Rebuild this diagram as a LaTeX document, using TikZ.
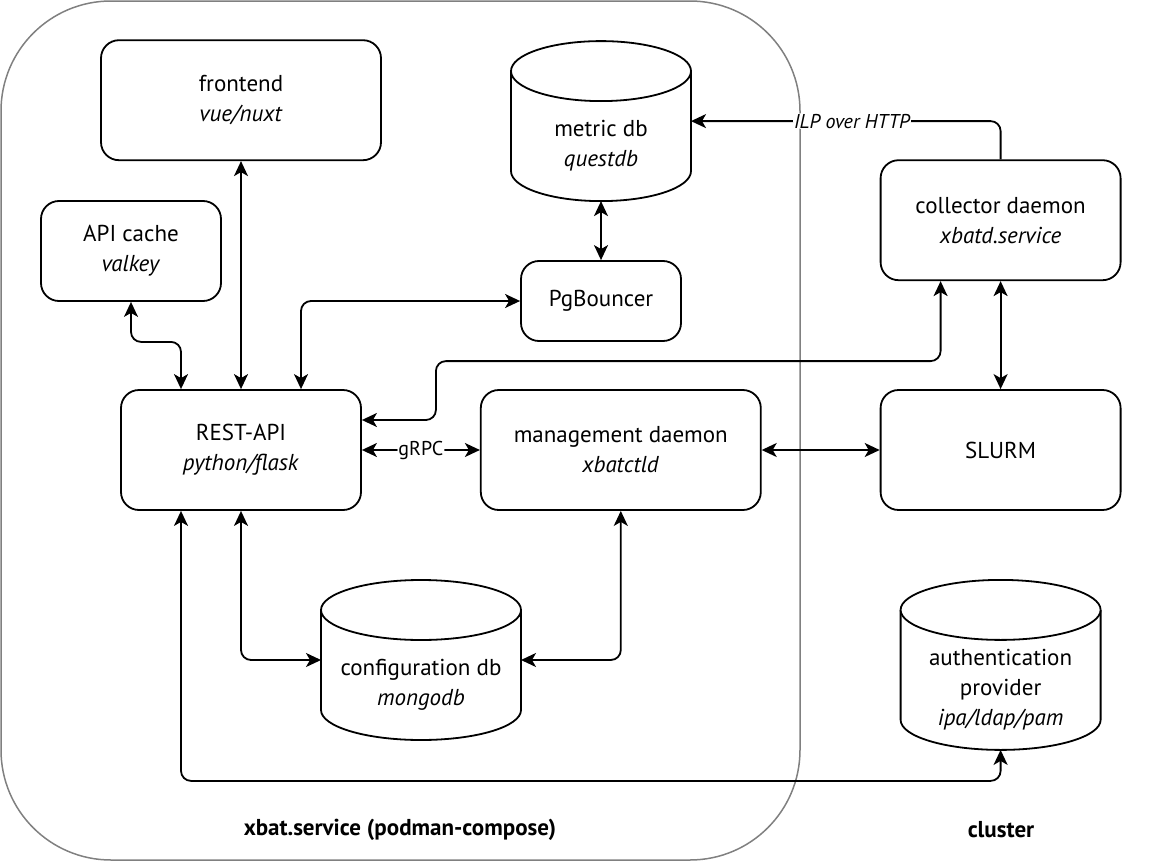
\documentclass[tikz,border=0pt]{standalone}
\usepackage{fontspec}
\setmainfont{PT Sans}
\usetikzlibrary{positioning, arrows.meta}

% cylinder outline round a (borderless) node: #1 node, #2 half width, #3 text
\newcommand{\dbshape}[3]{%
  \draw[dbline] ([yshift=-30pt]#1.north west) -- ([yshift=30pt]#1.south west)
    arc[start angle=180, end angle=360, x radius=#2, y radius=30pt]
    -- ([yshift=-30pt]#1.north east)
    arc[start angle=0, end angle=180, x radius=#2, y radius=30pt] -- cycle;
  \draw[dbline] ([yshift=-30pt]#1.north west)
    arc[start angle=180, end angle=360, x radius=#2, y radius=30pt];
  \node[dbtext] at ([yshift=-25pt]#1.center) {#3};
}

\tikzset{
  box/.style={draw, line width=1.8pt, rounded corners=18pt, align=center,
    minimum width=240pt, minimum height=120pt, font=\fontsize{23}{30}\selectfont},
  db/.style={inner sep=0pt, outer sep=0pt, minimum width=180pt, minimum height=160pt},
  dbtext/.style={align=center, font=\fontsize{23}{30}\selectfont},
  dbline/.style={line width=1.8pt, fill=white},
  link/.style={line width=1.8pt, rounded corners=10pt,
    {Stealth[length=15pt,width=14pt,inset=4pt]}-{Stealth[length=15pt,width=14pt,inset=4pt]}},
  onelink/.style={line width=1.8pt, rounded corners=10pt,
    -{Stealth[length=15pt,width=14pt,inset=4pt]}},
  lbl/.style={fill=white, inner sep=1pt, font=\fontsize{20}{22}\selectfont},
  area/.style={font=\bfseries\fontsize{23}{26}\selectfont},
}

\begin{document}
\begin{tikzpicture}[x=1pt, y=1pt]
  \useasboundingbox (0,0) rectangle (1160,-862);

  % compose area
  \draw[gray, line width=1.5pt, rounded corners=110pt] (1,-1) rectangle (800,-860);

  % services
  \node[box] (api) at (241,-450) {REST-API\\\textit{python/flask}};
  \node[box, minimum width=280pt, right=118pt of api] (mgmt) {management daemon\\\textit{xbatctld}};
  \node[box, right=118pt of mgmt] (slurm) {SLURM};
  \node[box, above=108pt of slurm] (collector) {collector daemon\\\textit{xbatd.service}};
  \node[box, minimum width=280pt, above=228pt of api] (frontend) {frontend\\\textit{vue/nuxt}};
  \node[box, minimum width=180pt, minimum height=100pt] (cache) at (131,-251) {API cache\\\textit{valkey}};
  \node[box, minimum width=160pt, minimum height=80pt] (pgb) at (601,-301) {PgBouncer};

  % databases
  \node[db, above=59pt of pgb] (metric) {};
  \node[db, minimum width=200pt] (config) at (421,-660) {};
  \node[db, minimum width=200pt, minimum height=170pt, below=69pt of slurm] (auth) {};
  \dbshape{metric}{90pt}{metric db\\\textit{questdb}}
  \dbshape{config}{100pt}{configuration db\\\textit{mongodb}}
  \dbshape{auth}{100pt}{authentication\\provider\\\textit{ipa/ldap/pam}}

  % connections
  \draw[link] (cache.south) -- ++(0,-40pt) -| ([xshift=-60pt]api.north);
  \draw[link] (frontend.south) -- (api.north);
  \draw[link] ([xshift=60pt]api.north) |- (pgb.west);
  \draw[link] (metric.south) -- (pgb.north);
  \draw[onelink] (collector.north) |- (metric.east)
    node[lbl, pos=0.74] {\itshape ILP over HTTP};
  \draw[link] ([yshift=30pt]api.east) -- ++(74pt,0)
    |- ([xshift=-60pt, yshift=-80pt]collector.south) -- ([xshift=-60pt]collector.south);
  \draw[link] (collector.south) -- (slurm.north);
  \draw[link] (api.east) -- (mgmt.west) node[lbl, midway] {gRPC};
  \draw[link] (mgmt.east) -- (slurm.west);
  \draw[link] (api.south) |- (config.west);
  \draw[link] (mgmt.south) |- (config.east);
  \draw[link] ([xshift=-60pt]api.south) -- ++(0,-270pt) -| (auth.south);

  % area titles
  \node[area] (svc) at (400,-830) {xbat.service (podman-compose)};
  \node[area] (cl) at (1001,-830) {cluster};
\end{tikzpicture}
\end{document}
